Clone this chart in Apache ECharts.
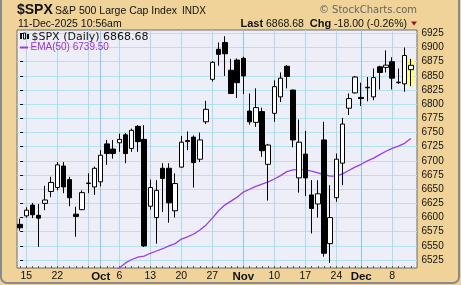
<!DOCTYPE html>
<html><head><meta charset="utf-8">
<script src="https://cdn.jsdelivr.net/npm/echarts@6/dist/echarts.min.js"></script>
<style>html,body{margin:0;padding:0;background:#efd398;}#c{width:461px;height:285px;}</style>
</head><body><div id="c"></div>
<script>
const dates = ['2025-09-12','2025-09-15','2025-09-16','2025-09-17','2025-09-18','2025-09-19','2025-09-22','2025-09-23','2025-09-24','2025-09-25','2025-09-26','2025-09-29','2025-09-30',
'2025-10-01','2025-10-02','2025-10-03','2025-10-06','2025-10-07','2025-10-08','2025-10-09','2025-10-10','2025-10-13','2025-10-14','2025-10-15','2025-10-16','2025-10-17','2025-10-20','2025-10-21','2025-10-22','2025-10-23','2025-10-24','2025-10-27','2025-10-28','2025-10-29','2025-10-30','2025-10-31',
'2025-11-03','2025-11-04','2025-11-05','2025-11-06','2025-11-07','2025-11-10','2025-11-11','2025-11-12','2025-11-13','2025-11-14','2025-11-17','2025-11-18','2025-11-19','2025-11-20','2025-11-21','2025-11-24','2025-11-25','2025-11-26','2025-11-28',
'2025-12-01','2025-12-02','2025-12-03','2025-12-04','2025-12-05','2025-12-08','2025-12-09','2025-12-10','2025-12-11'];
const opens  = [6588,6603,6622,6604,6625,6646,6653,6691,6667,6606,6614,6660,6654,6663,6730,6721,6732,6746,6722,6761,6738,6620,6600,6687,6687,6612,6689,6734,6742,6703,6769,6844,6897,6909,6860,6878,6881,6788,6768,6787,6694,6784,6813,6867,6825,6670,6712,6640,6624,6737,6554,6635,6696,6793,6820,6812,6830,6813,6866,6865,6875,6838,6836,6861];
const highs  = [6598,6618,6626,6624,6656,6672,6698,6698,6672,6619,6648,6678,6690,6719,6737,6737,6748,6749,6757,6763,6763,6667,6666,6696,6696,6678,6744,6752,6745,6750,6806,6876,6909,6920,6880,6881,6884,6819,6828,6794,6730,6842,6856,6869,6826,6773,6753,6666,6666,6769,6657,6713,6776,6819,6850,6838,6848,6863,6868,6895,6883,6863,6900,6880];
const lows   = [6577,6600,6599,6548,6613,6636,6648,6643,6620,6566,6613,6643,6640,6655,6693,6704,6716,6696,6716,6716,6548,6614,6554,6610,6591,6600,6688,6719,6653,6698,6765,6840,6868,6850,6818,6811,6818,6764,6760,6707,6630,6769,6804,6828,6724,6644,6638,6572,6600,6531,6520,6628,6657,6781,6819,6797,6805,6807,6826,6856,6826,6836,6822,6832];
const closes = [6582,6613,6605,6599,6631,6662,6693,6654,6635,6602,6644,6661,6687,6710,6713,6713,6738,6713,6754,6734,6550,6653,6648,6669,6626,6660,6733,6736,6697,6737,6791,6874,6888,6889,6819,6838,6850,6769,6794,6718,6728,6831,6846,6849,6737,6733,6670,6616,6642,6537,6600,6703,6765,6810,6848,6810,6829,6847,6856,6869,6846,6839,6886,6868.68];
const ema50  = [null,null,null,null,null,null,null,null,null,null,null,null,null,null,null,6503,6511,6520,6526,6530,6532,6537,6541,6545,6550,6554,6562,6566,6571,6578,6587,6599,6612,6622,6629,6636,6645,6650,6655,6659,6663,6668,6674,6681,6684,6685,6684,6682,6679,6676,6673,6673,6677,6683,6689,6694,6700,6705,6711,6717,6722,6726,6731,6739.5];
const yTicks = [6525,6550,6575,6600,6625,6650,6675,6700,6725,6750,6775,6800,6825,6850,6875,6900,6925];
const xLabelIdx = [1,6,13,16,21,26,31,36,41,46,51,55,60];
const xLabels = ['15','22','Oct','6','13','20','27','Nov','10','17','24','Dec','8'];
const weekLineIdx = [1,6,11,13,16,21,26,31,36,41,46,51,55,60];
const monthStartIdx = [13,36,55];

const candleData = dates.map((d,i)=>[i, opens[i], closes[i], lows[i], highs[i]]);
const emaData = dates.map((d,i)=>[i, ema50[i]]);
const dayIdx = dates.map((d,i)=>i);
const last = dates.length - 1;

const chart = echarts.init(document.getElementById('c'), null, {renderer:'canvas'});
const purple = '#9a3cf0';
chart.setOption({
  animation:false,
  backgroundColor:'#efd398',
  textStyle:{fontFamily:'Arial, "Liberation Sans", sans-serif'},
  grid:{left:17, right:44, top:30, bottom:17, show:true, backgroundColor:'#eeeef8', borderColor:'#6a6a6a', borderWidth:1, outerBoundsMode:'none'},
  xAxis:[
    {type:'value', min:-0.5, max:64, position:'bottom',
     axisLine:{show:false},
     axisTick:{show:false, customValues: weekLineIdx},
     axisLabel:{show:true, customValues: xLabelIdx, margin:3, color:'#111', fontSize:10.5,
       formatter:function(v){const k=xLabelIdx.indexOf(Math.round(v)); if(k<0) return ''; const s=xLabels[k]; return /^[A-Z]/.test(s)?'{m|'+s+'}':s;},
       rich:{m:{fontWeight:'bold', fontSize:11.5, color:'#111'}}},
     splitLine:{show:true, lineStyle:{width:1, color: weekLineIdx.map(i=>monthStartIdx.indexOf(i)>=0?'#8cc6ee':'#aadcea')}}
    },
    {type:'value', min:-0.5, max:64, position:'bottom',
     axisLine:{show:false},
     axisTick:{show:true, inside:true, length:2, customValues: dayIdx, lineStyle:{color:'#555'}},
     axisLabel:{show:false}, splitLine:{show:false}}
  ],
  yAxis:{type:'value', position:'right', min:6511, max:6931,
     axisLine:{show:false},
     axisTick:{show:true, length:3, customValues:yTicks, lineStyle:{color:'#111'}},
     axisLabel:{customValues:yTicks, margin:4.5, color:'#111', fontSize:10, formatter:function(v){return String(v);}},
     splitLine:{show:true, lineStyle:{color:'#b2e2ee', width:1}}
  },
  series:[
    {type:'line', data:emaData, xAxisIndex:0, showSymbol:false, symbol:'none', clip:true,
     lineStyle:{color:purple, width:1.3}, z:3},
    {type:'candlestick', data:candleData, xAxisIndex:0, barWidth:5, z:4,
     itemStyle:{color:'#ffffff', color0:'#000000', borderColor:'#000000', borderColor0:'#000000', borderWidth:1},
     markArea:{silent:true, z:1, itemStyle:{color:'#ffff66'},
       data:[[{coord:[last-0.55, lows[last]]},{coord:[last+0.55, highs[last]]}]]}
    }
  ],
  graphic:[
    {type:'rect', shape:{x:1, y:-10, width:458, height:293, r:6}, style:{fill:'none', stroke:'#8a8a8a', lineWidth:2}, z:100},
    {type:'text', x:17, y:10, style:{text:'$SPX', font:'bold 14px Arial', fill:'#111', textVerticalAlign:'middle'}},
    {type:'text', x:55, y:11, style:{text:'S&P 500 Large Cap Index', font:'10.5px Arial', fill:'#111', textVerticalAlign:'middle'}},
    {type:'text', x:182, y:11, style:{text:'INDX', font:'10px Arial', fill:'#111', textVerticalAlign:'middle'}},
    {type:'text', x:417, y:10.5, style:{text:'\u00a9 StockCharts.com', font:'10px "DejaVu Sans"', fill:'#666', textAlign:'right', textVerticalAlign:'middle'}},
    {type:'text', x:18, y:24, style:{text:'11-Dec-2025 10:56am', font:'10.5px Arial', fill:'#111', textVerticalAlign:'middle'}},
    {type:'text', x:407, y:24, style:{text:'{b|Last} 6868.68  {b|Chg} -18.00 (-0.26%)', font:'10.5px Arial', fill:'#111', textAlign:'right', textVerticalAlign:'middle', rich:{b:{font:'bold 11px Arial', fill:'#111'}}}},
    {type:'polygon', shape:{points:[[411,21.5],[417,21.5],[414,25.5]]}, style:{fill:'#a0102a'}},
    {type:'rect', shape:{x:20, y:34, width:2, height:5}, style:{fill:'#111'}, z:50},
    {type:'rect', shape:{x:23.5, y:33, width:2, height:6}, style:{fill:'#eeeef8', stroke:'#111', lineWidth:1}, z:50},
    {type:'rect', shape:{x:27, y:34, width:2, height:5}, style:{fill:'#111'}, z:50},
    {type:'text', x:31.5, y:37.5, style:{text:'$SPX (Daily) 6868.68', font:'11px "DejaVu Sans"', fill:'#111', textVerticalAlign:'middle'}, z:50},
    {type:'rect', shape:{x:20, y:46.5, width:8, height:2}, style:{fill:purple}, z:50},
    {type:'text', x:30.5, y:47.5, style:{text:'EMA(50) 6739.50', font:'10px Arial', fill:'#9933dd', textVerticalAlign:'middle'}, z:50}
  ]
});
</script></body></html>
